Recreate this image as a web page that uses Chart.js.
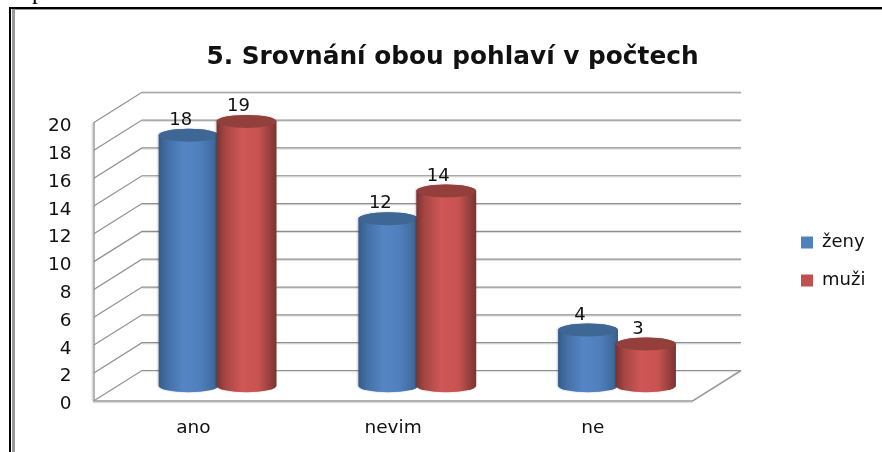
<!DOCTYPE html>
<html><head><meta charset="utf-8">
<style>
html,body{margin:0;padding:0;background:#fff;overflow:hidden}
#wrap{position:relative;width:882px;height:452px;overflow:hidden}
canvas{position:absolute;left:0;top:0}
.b{position:absolute;background:#000}
.g{position:absolute;background:#9a9a9a}
#frag{position:absolute;left:32px;top:-21px;font:24px/24px "Liberation Serif",serif;color:#000;white-space:nowrap}
</style></head><body>
<div id="wrap">
<div id="frag">počtech</div>
<div class="b" style="left:9px;top:7px;width:873px;height:2px"></div>
<div class="g" style="left:12px;top:9px;width:870px;height:1px"></div>
<div class="b" style="left:9px;top:7px;width:2px;height:445px"></div>
<div class="g" style="left:12px;top:9px;width:3px;height:443px"></div>
<canvas id="c" width="882" height="452"></canvas>
</div>
<script src="https://cdn.jsdelivr.net/npm/chart.js@4/dist/chart.umd.min.js"></script>
<script>
const categories = ["ano", "nevim", "ne"];
const zeny = [18, 12, 4];
const muzi = [19, 14, 3];
const yTicks = [0, 2, 4, 6, 8, 10, 12, 14, 16, 18, 20];
const titleText = "5. Srovnání obou pohlaví v počtech";

const DX = 48.5, DY = 30.5, RY = 6.5;
const FONT = '"DejaVu Sans", sans-serif';
const LEGEND_X = 801, LEGEND_TOP_SHIFT = 35.5, TITLE_SHIFT = 49;

function cylGrad(ctx, x0, x1, stops) {
  const g = ctx.createLinearGradient(x0, 0, x1, 0);
  stops.forEach(s => g.addColorStop(s[0], s[1]));
  return g;
}
const looks = [
  {stops: [[0,'#355a88'],[.14,'#436fa5'],[.42,'#5585c4'],[.7,'#4f7fbb'],[.92,'#3f6a9c'],[1,'#385e8c']], top:'#3f6796'},
  {stops: [[0,'#7a3331'],[.14,'#a54643'],[.42,'#cf5756'],[.7,'#c75351'],[.92,'#8f3c3a'],[1,'#7a3331']], top:'#93403d'}
];

const cube = {
  id: 'cube',
  afterLayout(chart) {
    const l = chart.legend;
    const shift = LEGEND_X - (l.left + l.options.labels.padding);
    l.left += shift; l.right += shift;
    l.top += LEGEND_TOP_SHIFT; l.bottom += LEGEND_TOP_SHIFT;
    const t = chart.titleBlock;
    t.left += TITLE_SHIFT; t.right += TITLE_SHIFT;
  },
  beforeDatasetsDraw(chart) {
    const {ctx, scales:{y}, chartArea:a} = chart;
    ctx.save();
    const seg = (pts, c, w) => {
      ctx.beginPath(); pts.forEach((p,i)=> i?ctx.lineTo(p[0],p[1]):ctx.moveTo(p[0],p[1]));
      ctx.strokeStyle=c; ctx.lineWidth=w; ctx.stroke();
    };
    y.ticks.forEach(t => {
      const py = y.getPixelForValue(t.value);
      seg([[a.left+DX,py-DY+1.2],[a.right+DX,py-DY+1.2]],'#dcdcdc',1);
      seg([[a.left,py],[a.left+DX,py-DY],[a.right+DX,py-DY]],'#8f8f8f',1.2);
    });
    const by = y.getPixelForValue(0);
    seg([[a.left-1,by+1.5],[a.right,by+1.5]],'#dddddd',1.5);
    seg([[a.left+.5,y.getPixelForValue(20)],[a.left+.5,by],[a.right,by],[a.right+DX,by-DY]],'#9a9a9a',1.5);
    seg([[a.left-1.2,y.getPixelForValue(20)],[a.left-1.2,by]],'#dddddd',1.5);
    ctx.restore();
  },
  beforeDatasetDraw() { return false; },
  afterDatasetsDraw(chart) {
    const {ctx, scales:{y}} = chart;
    const base = y.getPixelForValue(0) - DY/2;
    chart.data.datasets.forEach((ds,i) => {
      const look = looks[i];
      chart.getDatasetMeta(i).data.forEach(el => {
        const cx = el.x + DX/2, rx = el.width/2 + 1, top = el.y - DY/2;
        ctx.save();
        ctx.shadowColor='rgba(0,0,0,.22)'; ctx.shadowBlur=2; ctx.shadowOffsetX=-1;
        ctx.beginPath();
        ctx.moveTo(cx-rx, top);
        ctx.lineTo(cx-rx, base);
        ctx.ellipse(cx, base, rx, RY, 0, Math.PI, 0, true);
        ctx.lineTo(cx+rx, top);
        ctx.ellipse(cx, top, rx, RY, 0, 0, Math.PI, true);
        ctx.closePath();
        ctx.fillStyle = cylGrad(ctx, cx-rx, cx+rx, look.stops);
        ctx.fill();
        ctx.shadowColor='transparent';
        ctx.beginPath();
        ctx.ellipse(cx, top, rx, RY, 0, 0, Math.PI*2);
        ctx.fillStyle = look.top;
        ctx.fill();
        ctx.restore();
      });
    });
    ctx.save();
    ctx.font = '18px ' + FONT; ctx.fillStyle = '#111';
    ctx.textAlign='center'; ctx.textBaseline='middle';
    chart.data.datasets.forEach((ds,i) => {
      chart.getDatasetMeta(i).data.forEach((el,j) => {
        ctx.fillText(ds.data[j], el.x + DX/2 - 8, el.y - DY/2 - 15);
      });
    });
    ctx.restore();
  }
};

new Chart(document.getElementById('c'), {
  type: 'bar',
  data: { labels: categories, datasets: [
    {label:'ženy', data: zeny, backgroundColor:'#4f81bd', categoryPercentage:.58, barPercentage:1},
    {label:'muži', data: muzi, backgroundColor:'#c0504d', categoryPercentage:.58, barPercentage:1}
  ]},
  plugins: [cube],
  options: {
    responsive:false, animation:false,
    layout:{padding:{left:20,right:95,top:0,bottom:0}},
    plugins:{
      title:{display:true,text:titleText,color:'#111',font:{family:FONT,size:24.8,weight:'bold'},padding:{top:43,bottom:50}},
      legend:{position:'right',labels:{boxWidth:12,boxHeight:12,padding:20,color:'#111',font:{family:FONT,size:18}}},
      tooltip:{enabled:false}
    },
    scales:{
      x:{grid:{display:false},border:{display:false},ticks:{color:'#111',font:{family:FONT,size:18.5},padding:8},
         afterFit(s){s.height=51}},
      y:{min:0,max:20,afterBuildTicks(s){s.ticks=yTicks.map(v=>({value:v}))},
         grid:{display:false},border:{display:false},
         ticks:{color:'#111',font:{family:FONT,size:18.5},padding:14,labelOffset:3.5},
         afterFit(s){s.width=73.5}}
    }
  }
});
</script>
</body></html>
